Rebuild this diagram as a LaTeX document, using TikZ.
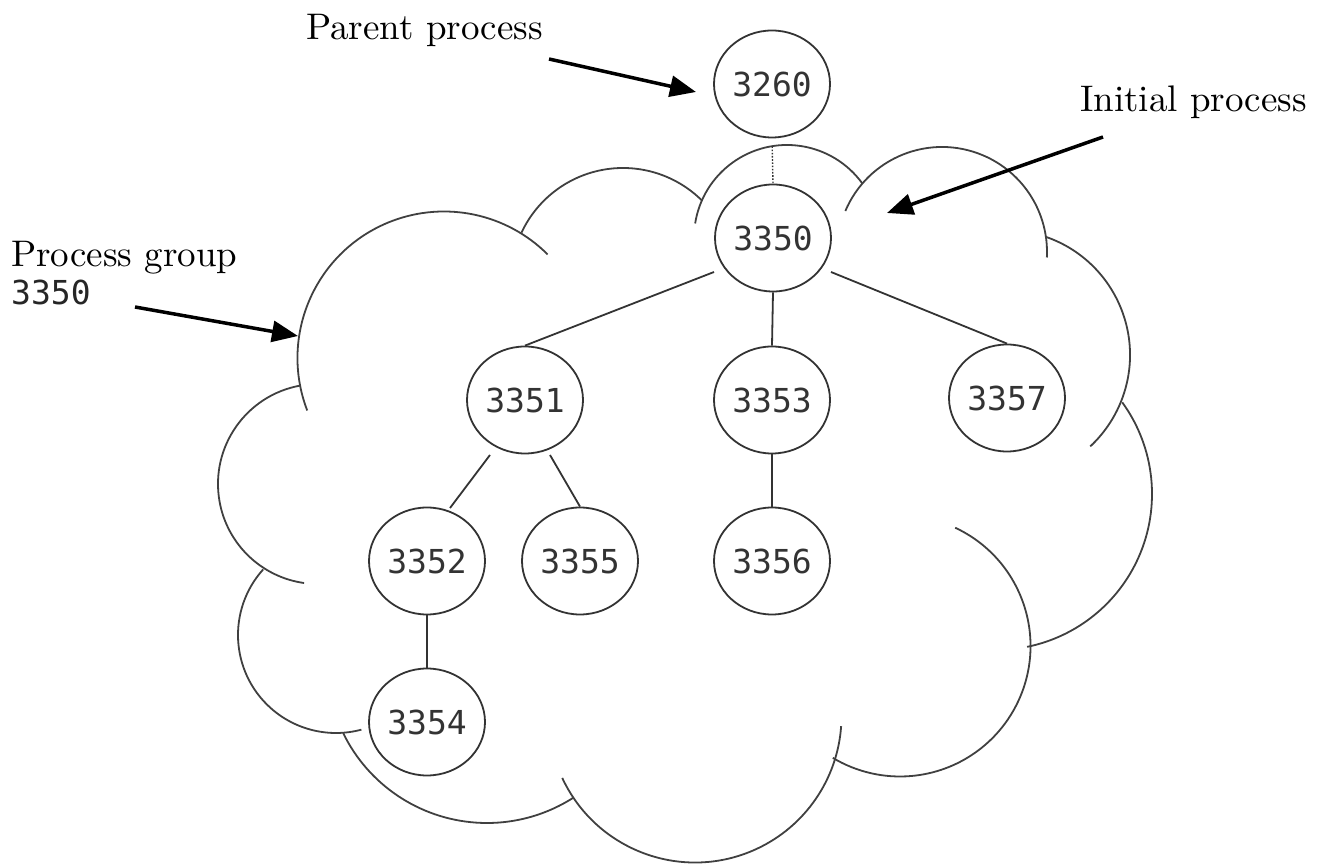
\documentclass[tikz,border=0pt]{standalone}
\usepackage{fontspec}
\setmainfont{lmroman10-regular.otf}
\newfontfamily\pidfont{DejaVu Sans Mono}
\usetikzlibrary{shapes.geometric,arrows.meta,calc}
% one scallop of the process-group cloud: centre x, centre y, start angle, radius, end angle
\newcommand\cloudarc[5]{\draw[cloudline] (#1,#2) ++(#3:#4) arc[start angle=#3, end angle=#5, radius=#4];}
\begin{document}
\begin{tikzpicture}[x=1pt,y=1pt,
  proc/.style={ellipse, draw=black!80, line width=1.8pt, minimum width=116pt,
    minimum height=107pt, inner sep=0pt, font=\pidfont\fontsize{33}{33}\selectfont, text=black!80},
  link/.style={draw=black!80, line width=1.8pt},
  cloudline/.style={draw=black!75, line width=1.8pt},
  pointer/.style={draw=black, line width=3.5pt, -{Triangle[length=26pt,width=21pt]}},
  caption/.style={anchor=base west, inner sep=0pt, font=\fontsize{37}{44}\selectfont},
  pidcaption/.style={anchor=base west, inner sep=0pt, font=\pidfont\fontsize{33}{33}\selectfont, text=black!85}
]
\useasboundingbox (0,0) rectangle (1325,864);

% cloud outline, clockwise from the left
\cloudarc{444}{506}{201}{146.5}{45}
\cloudarc{623}{584}{155}{112}{45}
\cloudarc{787}{626}{171}{93}{36}
\cloudarc{942}{612}{157}{105}{-3}
\cloudarc{1005}{509}{71}{125}{-47}
\cloudarc{996}{370}{36}{156}{-78.5}
\cloudarc{900}{218}{65}{130.5}{-121}
\cloudarc{695}{148}{205}{146.5}{356}
\cloudarc{487}{201}{206}{160}{302.5}
\cloudarc{336}{229}{138}{98}{285}
\cloudarc{318}{380}{100}{100}{262}

% processes
\node[proc] (n3260) at (772,780) {3260};
\node[proc] (n3350) at (773,626) {3350};
\node[proc] (n3351) at (525,464) {3351};
\node[proc] (n3353) at (772,464) {3353};
\node[proc] (n3357) at (1007,466) {3357};
\node[proc] (n3352) at (427,303) {3352};
\node[proc] (n3355) at (580,303) {3355};
\node[proc] (n3356) at (772,303) {3356};
\node[proc] (n3354) at (427,142) {3354};

% parent link and process tree
\draw[link, line width=1.4pt, dash pattern=on 1.6pt off 1.6pt, shorten <=8pt] (n3260.south) -- (n3350.north);
\draw[link] ($(n3350)+(-59,-34)$) -- (n3351.north);
\draw[link] (n3350.south) -- (n3353.north);
\draw[link] ($(n3350)+(58,-34)$) -- (n3357.north);
\draw[link] ($(n3351)+(-35,-55)$) -- ($(n3352)+(23,53)$);
\draw[link] ($(n3351)+(25,-55)$) -- (n3355.north);
\draw[link] (n3353.south) -- (n3356.north);
\draw[link] (n3352.south) -- (n3354.north);

% captions and their pointers
\node[caption] (parentlbl) at (306,824) {Parent process};
\node[caption] (initlbl) at (1080,752) {Initial process};
\node[caption] (grouplbl) at (11,597) {Process group};
\node[pidcaption] (grouppid) at (11,559) {3350};

\coordinate (parentTail) at (549,805);
\coordinate (parentTip) at (696,772);
\coordinate (initTail) at (1103,727);
\coordinate (initTip) at (887,651);
\coordinate (groupTail) at (135,557);
\coordinate (groupTip) at (298,528);
\draw[pointer] (parentTail) -- (parentTip);
\draw[pointer] (initTail) -- (initTip);
\draw[pointer] (groupTail) -- (groupTip);
\end{tikzpicture}
\end{document}
